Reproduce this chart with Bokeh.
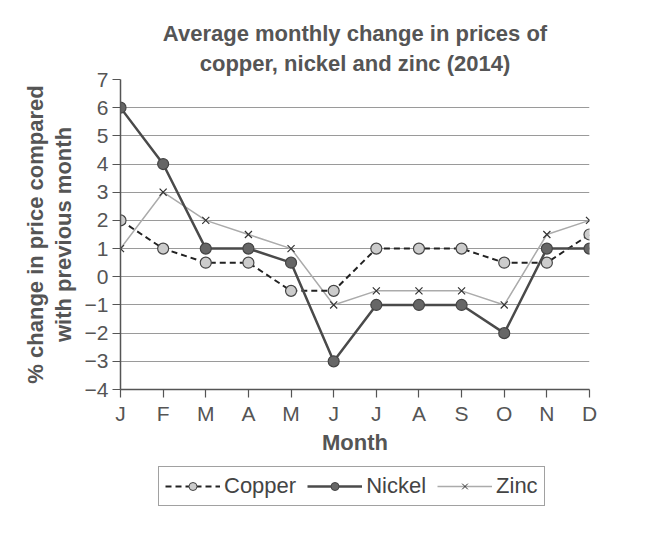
from bokeh.plotting import figure
from bokeh.models import Range1d, Legend, LegendItem, FixedTicker, Title, LinearAxis
from bokeh.layouts import column
from bokeh.embed import file_html
from bokeh.resources import INLINE

months = ["J", "F", "M", "A", "M", "J", "J", "A", "S", "O", "N", "D"]
copper = [2, 1, 0.5, 0.5, -0.5, -0.5, 1, 1, 1, 0.5, 0.5, 1.5]
nickel = [6, 4, 1, 1, 0.5, -3, -1, -1, -1, -2, 1, 1]
zinc = [1, 3, 2, 1.5, 1, -1, -0.5, -0.5, -0.5, -1, 1.5, 2]
y_ticks = [-4, -3, -2, -1, 0, 1, 2, 3, 4, 5, 6, 7]
series_names = ["Copper", "Nickel", "Zinc"]

FONT = "Liberation Sans"
TXT = "#555555"
x = list(range(len(months)))

COPPER_STYLE = dict(line_color="#222222", line_width=2, line_dash="6 4")
NICKEL_STYLE = dict(line_color="#4a4a4a", line_width=2.5)
ZINC_STYLE = dict(line_color="#ababab", line_width=1.5)

p = figure(width=670, height=460, output_backend="svg", toolbar_location=None,
           x_range=Range1d(0, 11), y_range=Range1d(-4, 7),
           min_border_left=120, min_border_right=81, min_border_top=79, min_border_bottom=71)
p.outline_line_color = None
p.background_fill_color = "white"

p.title.text = "Average monthly change in prices of"
sub = Title(text="copper, nickel and zinc (2014)")
p.add_layout(sub, "above")
for t, so in ((p.title, 0), (sub, 7)):
    t.align = "center"
    t.text_font = FONT
    t.text_font_size = "22px"
    t.text_color = TXT
    t.text_font_style = "bold"
    t.standoff = so
    t.offset = 0

p.xgrid.grid_line_color = None
p.ygrid.grid_line_color = "#9a9a9a"
p.ygrid.grid_line_width = 1

outer = LinearAxis(axis_label="% change in price compared", ticker=FixedTicker(ticks=[]),
                   axis_line_color=None, major_tick_line_color=None, minor_tick_line_color=None,
                   major_label_text_font_size="0px", axis_label_standoff=0,
                   major_label_standoff=0, major_tick_out=0)
p.add_layout(outer, "left")

for ax in (p.xaxis[0], p.yaxis[0], outer):
    ax.axis_label_text_font = FONT
    ax.axis_label_text_font_size = "22px"
    ax.axis_label_text_font_style = "bold"
    ax.axis_label_text_color = TXT

for ax in (p.xaxis[0], p.yaxis[0]):
    ax.axis_line_color = "#555555"
    ax.axis_line_width = 1.5
    ax.major_tick_line_color = "#555555"
    ax.major_tick_line_width = 1.2
    ax.major_tick_out = 8
    ax.major_tick_in = 0
    ax.minor_tick_line_color = None
    ax.major_label_text_font = FONT
    ax.major_label_text_font_size = "21px"
    ax.major_label_text_color = TXT

p.xaxis[0].ticker = FixedTicker(ticks=x)
p.xaxis[0].major_label_overrides = {i: m for i, m in enumerate(months)}
p.xaxis[0].axis_label = "Month"
p.xaxis[0].major_label_standoff = 4
p.xaxis[0].axis_label_standoff = 2
p.yaxis[0].ticker = FixedTicker(ticks=y_ticks)
p.yaxis[0].major_label_overrides = {t: (str(t).replace("-", "\u2212")) for t in y_ticks}
p.yaxis[0].axis_label = "with previous month"
p.yaxis[0].major_label_standoff = 4
p.yaxis[0].axis_label_standoff = 6

p.line(x, zinc, **ZINC_STYLE)
p.scatter(x, zinc, marker="x", size=10, line_color="#333333", line_width=1.2)
p.line(x, copper, **COPPER_STYLE)
p.scatter(x, copper, marker="circle", size=11, fill_color="#cccccc", line_color="#444444", line_width=1.2)
p.line(x, nickel, **NICKEL_STYLE)
p.scatter(x, nickel, marker="circle", size=11, fill_color="#666666", line_color="#444444", line_width=1.2)

# legend panel (its frame is aligned with the chart's frame by the column layout)
lg = figure(width=670, height=74, output_backend="svg", toolbar_location=None,
            x_range=Range1d(0, 1), y_range=Range1d(0, 1),
            x_axis_location=None, y_axis_location=None,
            min_border_left=120, min_border_right=81, min_border_top=0, min_border_bottom=0)
lg.outline_line_color = None
lg.grid.grid_line_color = None
nan = [float("nan")]
c1 = lg.line(nan, nan, **COPPER_STYLE)
c2 = lg.scatter(nan, nan, marker="circle", size=7, fill_color="#cccccc", line_color="#444444", line_width=1)
n1 = lg.line(nan, nan, **NICKEL_STYLE)
n2 = lg.scatter(nan, nan, marker="circle", size=8, fill_color="#666666", line_color="#444444", line_width=1)
z1 = lg.line(nan, nan, **ZINC_STYLE)
z2 = lg.scatter(nan, nan, marker="x", size=7, line_color="#333333", line_width=1)

legend = Legend(items=[
    LegendItem(label=series_names[0], renderers=[c1, c2]),
    LegendItem(label=series_names[1], renderers=[n1, n2]),
    LegendItem(label=series_names[2], renderers=[z1, z2]),
], orientation="horizontal", location=(38, 28))
legend.label_text_font = FONT
legend.label_text_font_size = "22px"
legend.label_text_color = "#444444"
legend.border_line_color = "#444444"
legend.border_line_width = 1.2
legend.glyph_width = 55
legend.glyph_height = 20
legend.label_standoff = 4
legend.spacing = 11
legend.padding = 6
legend.margin = 0
legend.label_height = 20
lg.add_layout(legend, "center")

open("out.html", "w").write(file_html(column(p, lg, spacing=0), INLINE))
